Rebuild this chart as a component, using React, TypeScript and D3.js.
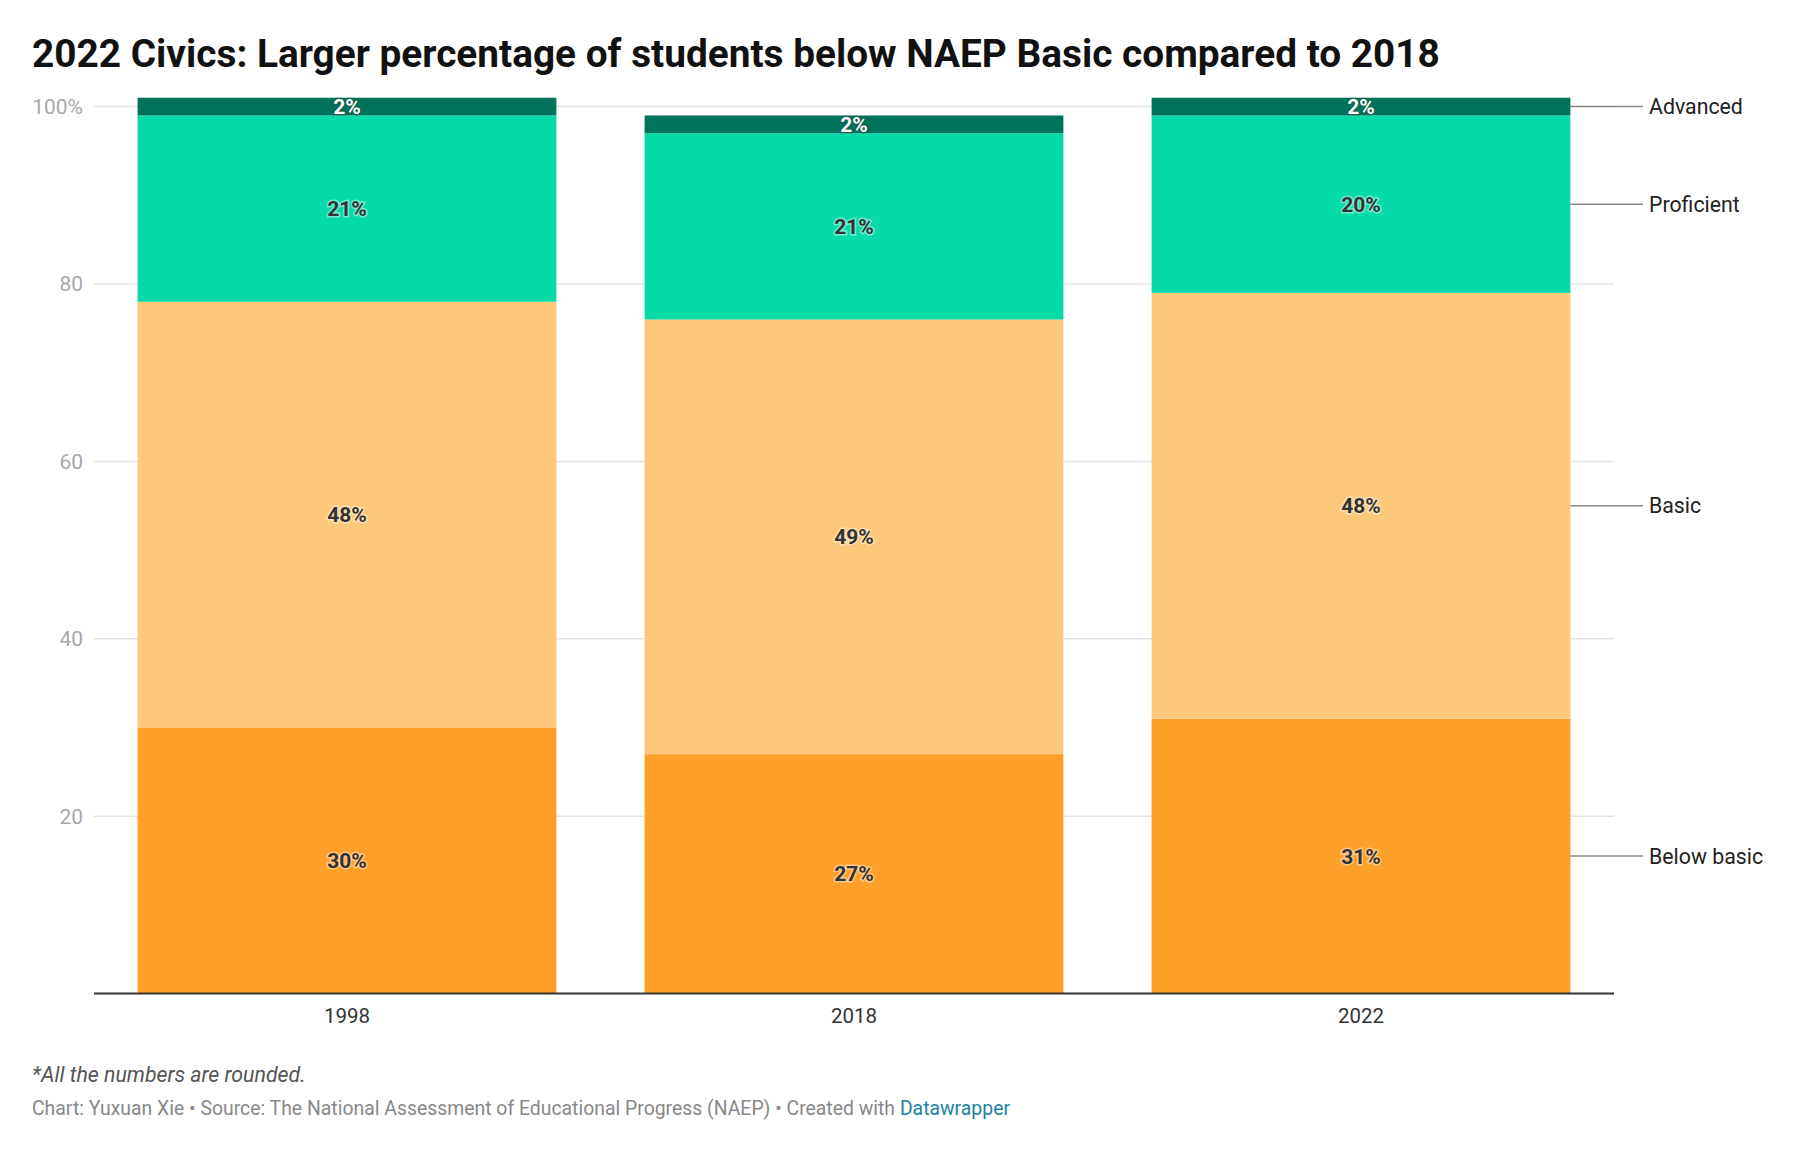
import React from "react";
import * as d3 from "d3";

const years = ["1998", "2018", "2022"];
const seriesNames = ["Below basic", "Basic", "Proficient", "Advanced"];
const belowBasic = [30, 27, 31];
const basic = [48, 49, 48];
const proficient = [21, 21, 20];
const advanced = [2, 2, 2];
const seriesColors = ["#fe9f29", "#fec87b", "#06dba8", "#00735a"];
const yTicks = [20, 40, 60, 80, 100];

const W = 1797;
const H = 1153;
const M = { left: 94, right: 1614, top: 106.6, bottom: 993.6 };

export default function App() {
  const rows = years.map((y, i) => ({
    year: y,
    "Below basic": belowBasic[i],
    Basic: basic[i],
    Proficient: proficient[i],
    Advanced: advanced[i],
  }));
  const stack = d3.stack<any>().keys(seriesNames)(rows);
  const x = d3
    .scaleBand<string>()
    .domain(years)
    .range([M.left, M.right])
    .paddingInner(0.174)
    .paddingOuter(0.086);
  const y = d3.scaleLinear().domain([0, 100]).range([M.bottom, M.top]);
  const font = "Roboto, 'Noto Sans', sans-serif";
  const last = years[years.length - 1];
  const lastRight = (x(last) as number) + x.bandwidth();

  return (
    <svg width={W} height={H} style={{ position: "absolute", left: 0, top: 0 }} fontFamily={font}>
      <rect width={W} height={H} fill="#fff" />
      <text x={32} y={67} fontSize={38.8} fontWeight={700} fill="#111">
        2022 Civics: Larger percentage of students below NAEP Basic compared to 2018
      </text>
      {yTicks.map((t) => (
        <g key={t}>
          <line x1={M.left} x2={M.right} y1={y(t)} y2={y(t)} stroke="#e3e3e3" strokeWidth={1.5} />
          <text x={83} y={y(t)} dy="0.35em" textAnchor="end" fontSize={21} fill="#a8a8a8">
            {t === 100 ? "100%" : t}
          </text>
        </g>
      ))}
      {stack.map((s, si) => (
        <g key={s.key}>
          {s.map((d, i) => (
            <rect
              key={i}
              x={x(years[i])}
              width={x.bandwidth()}
              y={y(d[1])}
              height={y(d[0]) - y(d[1])}
              fill={seriesColors[si]}
            />
          ))}
        </g>
      ))}
      {stack.map((s, si) => (
        <g key={s.key + "l"}>
          {s.map((d, i) => {
            const isAdv = s.key === "Advanced";
            const cx = (x(years[i]) as number) + x.bandwidth() / 2;
            const cy = y((d[0] + d[1]) / 2);
            return (
              <text
                key={i}
                x={cx}
                y={cy}
                dy="0.36em"
                textAnchor="middle"
                fontSize={21}
                fontWeight={700}
                fill={isAdv ? "#fff" : "#333"}
                stroke={isAdv ? "#2a4a40" : "#fff"}
                strokeOpacity={isAdv ? 0.4 : 0.45}
                strokeWidth={3}
                paintOrder="stroke"
              >
                {d[1] - d[0]}%
              </text>
            );
          })}
        </g>
      ))}
      <line x1={M.left} x2={M.right} y1={M.bottom} y2={M.bottom} stroke="#333" strokeWidth={2} />
      {years.map((yr) => (
        <text
          key={yr}
          x={(x(yr) as number) + x.bandwidth() / 2}
          y={1016}
          dy="0.35em"
          textAnchor="middle"
          fontSize={20.5}
          fill="#333"
        >
          {yr}
        </text>
      ))}
      {stack.map((s) => {
        const d = s[s.length - 1];
        const cy = y((d[0] + d[1]) / 2);
        return (
          <g key={s.key + "r"}>
            <line x1={lastRight} x2={1643} y1={cy} y2={cy} stroke="#888" strokeWidth={1.5} />
            <text x={1649} y={cy} dy="0.35em" fontSize={21.3} fill="#222">
              {s.key}
            </text>
          </g>
        );
      })}
      <text x={32} y={1075} dy="0.35em" fontSize={21.3} fontStyle="italic" fill="#555">
        *All the numbers are rounded.
      </text>
      <text x={32} y={1108} dy="0.35em" fontSize={19.4} fill="#888">
        Chart: Yuxuan Xie • Source: The National Assessment of Educational Progress (NAEP) • Created with{" "}
        <tspan fill="#1d81a2">Datawrapper</tspan>
      </text>
    </svg>
  );
}
